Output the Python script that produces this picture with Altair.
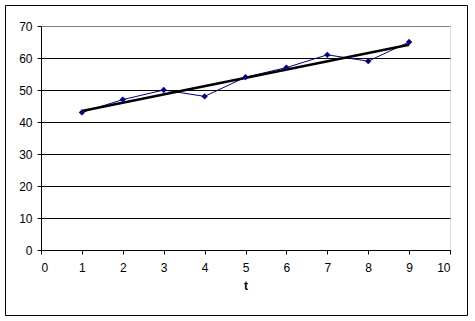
import altair as alt
import pandas as pd

t_values = [1, 2, 3, 4, 5, 6, 7, 8, 9]
y_values = [43, 47, 50, 48, 54, 57, 61, 59, 65]
x_ticks = [0, 1, 2, 3, 4, 5, 6, 7, 8, 9, 10]
y_ticks = [0, 10, 20, 30, 40, 50, 60, 70]

df = pd.DataFrame({"t": t_values, "y": y_values})

FONT = "Liberation Sans"

x_enc = alt.X("t:Q", scale=alt.Scale(domain=[0, 10], nice=False, zero=False),
              axis=alt.Axis(values=x_ticks, title="t", grid=False, format="d",
                            domainColor="black", tickColor="black", tickSize=4,
                            labelPadding=8, titleFontWeight="bold", titlePadding=7,
                            labelFontSize=12, titleFontSize=12, labelColor="black",
                            titleColor="black", labelFont=FONT, titleFont=FONT,
                            labelOverlap=False))
y_enc = alt.Y("y:Q", scale=alt.Scale(domain=[0, 70], nice=False),
              axis=alt.Axis(values=y_ticks, title=None, grid=True,
                            gridColor=alt.condition("datum.value == 70", alt.value("#808080"), alt.value("black")),
                            gridOpacity=1, domainColor="black", tickColor="black",
                            tickSize=4, labelPadding=5, labelFontSize=12,
                            labelColor="black", labelFont=FONT, labelOverlap=False,
                            format="d"))

base = alt.Chart(df)

line = base.mark_line(color="#000080", strokeWidth=1).encode(x=x_enc, y=y_enc)
pts = base.mark_point(shape="diamond", filled=True, color="#000080", size=40, opacity=1).encode(x=x_enc, y=y_enc)
trend = base.transform_regression("t", "y").mark_line(color="black", strokeWidth=2.5).encode(x=x_enc, y=y_enc)

border = alt.Chart(pd.DataFrame({"a": [0]})).mark_rect(
    fill=None, stroke="black", strokeWidth=1, clip=False
).encode(x=alt.value(-35.5), x2=alt.value(426.5), y=alt.value(-20.5), y2=alt.value(289.5))

chart = alt.layer(line, trend, pts, border).properties(
    width=409, height=224,
    autosize=alt.AutoSizeParams(type="none"),
    padding={"left": 41, "top": 26, "right": 25, "bottom": 71},
).configure_view(stroke="#808080", strokeWidth=1).configure(background="white")

chart.save("out.html", embed_options={"renderer": "svg", "actions": False})
